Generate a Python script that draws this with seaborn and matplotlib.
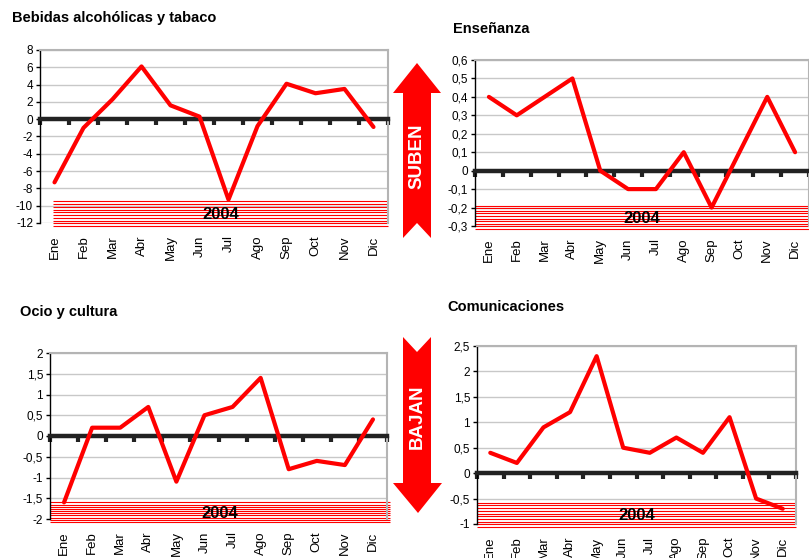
import numpy as np
import pandas as pd
import seaborn as sns
import matplotlib.pyplot as plt
from matplotlib.patches import Polygon
from matplotlib.ticker import FuncFormatter

sns.set_theme(style="white")
plt.rcParams['font.family'] = ['Liberation Sans', 'DejaVu Sans']

meses = ["Ene", "Feb", "Mar", "Abr", "May", "Jun", "Jul", "Ago", "Sep", "Oct", "Nov", "Dic"]
bebidas = [-7.3, -1.0, 2.3, 6.1, 1.6, 0.3, -9.3, -0.8, 4.1, 3.0, 3.5, -0.9]
ensenanza = [0.4, 0.3, 0.4, 0.5, 0.0, -0.1, -0.1, 0.1, -0.2, 0.1, 0.4, 0.1]
ocio = [-1.6, 0.2, 0.2, 0.7, -1.1, 0.5, 0.7, 1.4, -0.8, -0.6, -0.7, 0.4]
comunicaciones = [0.4, 0.2, 0.9, 1.2, 2.3, 0.5, 0.4, 0.7, 0.4, 1.1, -0.5, -0.7]

W, H = 809, 558
fig = plt.figure(figsize=(W / 100, H / 100), dpi=100)


def px_axes(x0, y0, x1, y1):
    return fig.add_axes([x0 / W, 1 - y1 / H, (x1 - x0) / W, (y1 - y0) / H])


def coma(v, pos):
    s = f"{v:.1f}".rstrip("0").rstrip(".")
    if s == "-0":
        s = "0"
    return s.replace(".", ",")


def panel(rect, valores, titulo, tpos, yticks, band_top, band_x0=0.0, band_x1=1.0):
    ax = px_axes(*rect)
    df = pd.DataFrame({"pos": np.arange(len(meses)), "valor": valores})
    ax.set_xlim(-0.5, len(meses) - 0.5)
    ax.set_ylim(yticks[0], yticks[-1])
    ax.set_yticks(yticks)
    ax.yaxis.set_major_formatter(FuncFormatter(coma))
    ax.grid(axis="y", color="#c8c8c8", lw=1)
    ax.set_axisbelow(True)

    # banda rayada con el año
    y0, y1 = ax.get_ylim()
    bot = y0 - (y1 - y0) * 0.018
    ax.hlines(np.linspace(band_top, bot, 10), band_x0, band_x1, colors="red",
              lw=0.8, transform=ax.get_yaxis_transform(), clip_on=False, zorder=2)
    ax.text((band_x0 + band_x1) / 2, (band_top + bot) / 2 - (y1 - y0) * 0.005, "2004",
            transform=ax.get_yaxis_transform(), ha="center", va="center",
            fontsize=12, fontweight="bold", color="black", zorder=3)

    sns.lineplot(data=df, x="pos", y="valor", ax=ax, color="red", lw=3, zorder=4)
    ax.set_xlabel("")
    ax.set_ylabel("")

    # eje de categorías en cero
    ax.spines["bottom"].set_position(("data", 0))
    ax.spines["bottom"].set_color("#222222")
    ax.spines["bottom"].set_linewidth(3.2)
    ax.spines["bottom"].set_zorder(3.5)
    ax.set_xticks(np.arange(-0.5, len(meses)), labels=[])
    ax.tick_params(axis="x", direction="out", length=4, width=3, color="#222222", bottom=True)
    ax.spines["left"].set_color("black")
    ax.spines["left"].set_linewidth(1)
    for s in ("top", "right"):
        ax.spines[s].set_color("#b4b4b4")
        ax.spines[s].set_linewidth(1.5)
    ax.tick_params(axis="y", left=True, length=3, width=1, color="black", pad=2,
                   labelsize=8.5, labelcolor="black")

    sec = ax.secondary_xaxis("bottom")
    sec.set_xticks(np.arange(len(meses)), labels=meses, rotation=90)
    sec.tick_params(length=0, pad=9, labelsize=9.5, labelcolor="black")
    sec.spines["bottom"].set_visible(False)

    fig.text(tpos[0] / W, 1 - tpos[1] / H, titulo, ha="left", va="center",
             fontsize=10.5, fontweight="bold", color="black")
    return ax


panel((40, 50, 388, 223), bebidas, "Bebidas alcohólicas y tabaco", (12, 18),
      np.arange(-12, 9, 2), -9.5, band_x0=0.037)
panel((475, 60, 809, 226), ensenanza, "Enseñanza", (453, 29),
      np.round(np.arange(-0.3, 0.61, 0.1), 1), -0.19)
panel((50, 353, 387, 519), ocio, "Ocio y cultura", (20, 312),
      np.arange(-2, 2.01, 0.5), -1.6, band_x1=1.01)
panel((477, 346, 796, 524), comunicaciones, "Comunicaciones", (447, 307),
      np.arange(-1, 2.51, 0.5), -0.58)


# flechas SUBEN / BAJAN
def flecha(pts, texto, yc):
    poly = Polygon([(x / W, 1 - y / H) for x, y in pts], closed=True,
                   transform=fig.transFigure, facecolor="red", edgecolor="none")
    fig.patches.append(poly)
    fig.text(417 / W, 1 - yc / H, texto, rotation=90, ha="center", va="center",
             color="white", fontsize=13.5, fontweight="bold")


flecha([(417, 63), (441, 93), (431, 93), (431, 238), (417, 223), (403, 238),
        (403, 93), (393, 93)], "SUBEN", 156)
flecha([(403, 337), (417, 352), (431, 337), (431, 483), (442, 483), (418, 513),
        (393, 483), (403, 483)], "BAJAN", 417)

fig.savefig("out.png", dpi=100)
